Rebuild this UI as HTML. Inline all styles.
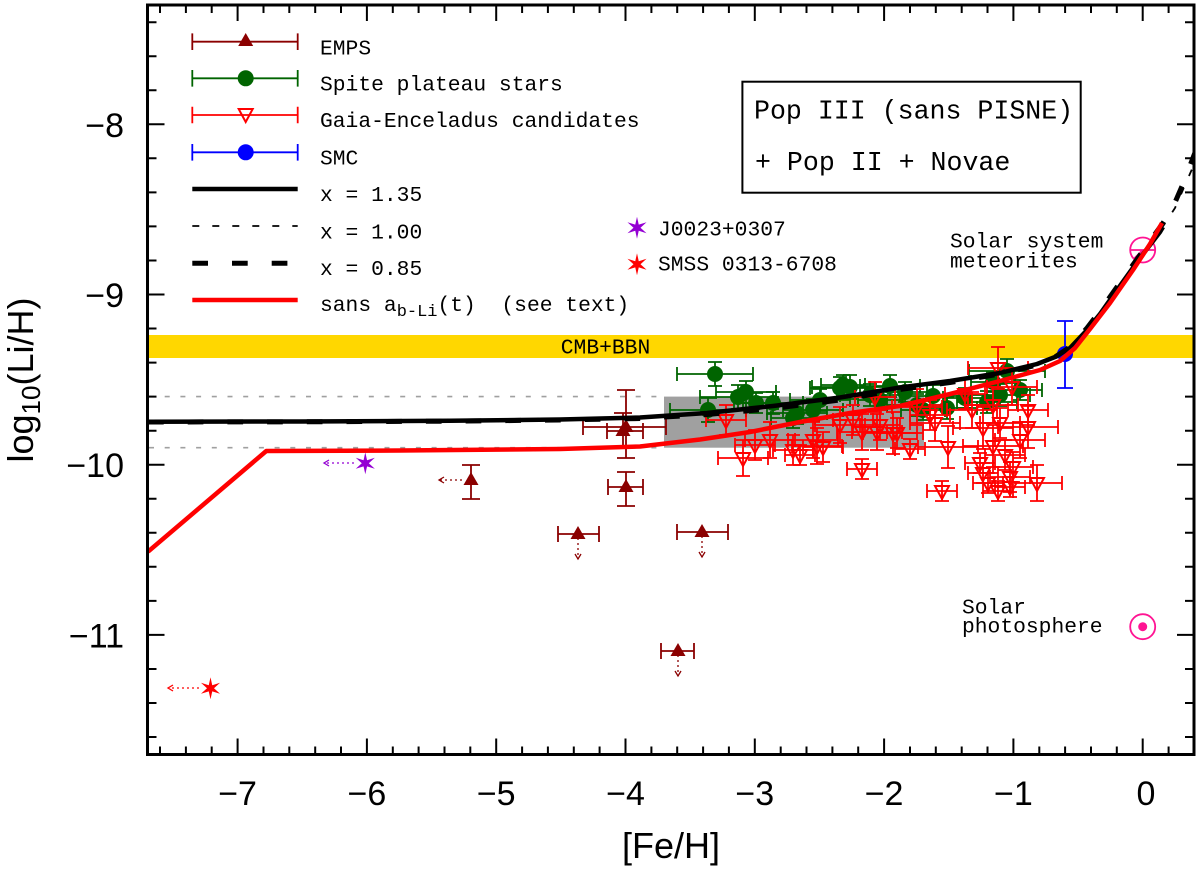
<!DOCTYPE html>
<html><head><meta charset="utf-8"><style>
html,body{margin:0;padding:0;background:#fff}
svg{display:block}
.m{font-family:"Liberation Mono","Courier New",monospace;font-size:21.3px;fill:#000;white-space:pre}
.s{font-family:"Liberation Sans",Arial,sans-serif;fill:#000}
</style></head><body>
<svg xmlns="http://www.w3.org/2000/svg" width="1200" height="873" viewBox="0 0 1200 873">
<defs>
<clipPath id="c"><rect x="149" y="6.5" width="1043.5" height="746.5"/></clipPath>
<path id="tu" d="M0,-8L7.5,5H-7.5Z" fill="#8b0000"/>
<path id="td" d="M0,8L7,-5H-7Z" fill="none" stroke="#f00" stroke-width="2"/>
<path id="A" d="M-20,0H20M-20,-7v14M20,-7v14M0,-15V15M-7,-15h14M-7,15h14" fill="none" stroke="#f00" stroke-width="1.8"/>
<path id="B" d="M-25,0H25M-25,-7v14M25,-7v14M0,-18V18M-7,-18h14M-7,18h14" fill="none" stroke="#f00" stroke-width="1.8"/>
<path id="C" d="M-15,0H15M-15,-7v14M15,-7v14M0,-10V10M-7,-10h14M-7,10h14" fill="none" stroke="#f00" stroke-width="1.8"/>
<path id="D" d="M-30,0H30M-30,-7v14M30,-7v14M0,-21V21M-7,-21h14M-7,21h14" fill="none" stroke="#f00" stroke-width="1.8"/>
<path id="G1" d="M-30,0H30M-30,-7v14M30,-7v14M0,-11V11M-7,-11h14M-7,11h14" fill="none" stroke="#006400" stroke-width="1.8"/>
<path id="G2" d="M-38,0H38M-38,-7v14M38,-7v14M0,-12V12M-7,-12h14M-7,12h14" fill="none" stroke="#006400" stroke-width="1.8"/>
<path id="G3" d="M-22,0H22M-22,-7v14M22,-7v14M0,-10V10M-7,-10h14M-7,10h14" fill="none" stroke="#006400" stroke-width="1.8"/>
<circle id="gc" r="8" fill="#006400"/>
<polygon id="st" points="0,-11 1.75,-3.03 9.53,-5.5 3.5,0 9.53,5.5 1.75,3.03 0,11 -1.75,3.03 -9.53,5.5 -3.5,0 -9.53,-5.5 -1.75,-3.03"/>
</defs>

<rect x="0" y="0" width="1200" height="873" fill="#fff"/>

<!-- CMB+BBN band -->
<rect x="149" y="335" width="1043.5" height="23" fill="#ffd700"/>
<!-- gray box -->
<rect x="664" y="396.6" width="260" height="51.1" fill="#a0a0a0"/>
<path d="M149,396.6H664M149,447.7H664" stroke="#a0a0a0" stroke-width="1.6" stroke-dasharray="5,10.7" fill="none"/>
<text class="m" x="605.5" y="353.3" text-anchor="middle">CMB+BBN</text>

<!-- EMPS -->
<g fill="none" stroke="#8b0000" stroke-width="1.8">
<path d="M626,390V458M617,390h18M617,458h18M583,427H666M583,419v16M666,419v16"/>
<path d="M623,413V449M614,413h18M607,431H643M607,423v16M643,423v16"/>
<path d="M626,472V506M617,472h18M617,506h18M608,487H643M608,479v16M643,479v16"/>
<path d="M471,465V499M462,465h18M462,499h18"/>
<path d="M558,534H599M558,526v16M599,526v16"/>
<path d="M677,532H728M677,524v16M728,524v16"/>
<path d="M661,651H694M661,643v16M694,643v16"/>
</g>
<g fill="none" stroke="#8b0000" stroke-width="1.3">
<path d="M462,480H440" stroke-dasharray="2,3"/><path d="M444,477L439,480L444,483"/>
<path d="M578,538V559" stroke-dasharray="2,3"/><path d="M575,554L578,559L581,554"/>
<path d="M702,536V557" stroke-dasharray="2,3"/><path d="M699,552L702,557L705,552"/>
<path d="M678,655V676" stroke-dasharray="2,3"/><path d="M675,671L678,676L681,671"/>
</g>
<use href="#tu" x="626" y="427"/><use href="#tu" x="623" y="431"/>
<use href="#tu" x="626" y="487"/><use href="#tu" x="471" y="480"/>
<use href="#tu" x="578" y="534"/><use href="#tu" x="702" y="532"/>
<use href="#tu" x="678" y="651"/>

<!-- Spite plateau -->
<use href="#G2" x="715" y="374"/><use href="#G1" x="746" y="392"/><use href="#G2" x="738" y="397"/>
<use href="#G2" x="708" y="410"/><use href="#G3" x="756" y="403"/><use href="#G1" x="773" y="403"/>
<use href="#G3" x="793" y="418"/><use href="#G1" x="813" y="410"/><use href="#G1" x="797" y="413"/>
<use href="#G1" x="820" y="400"/><use href="#G1" x="840" y="388"/><use href="#G3" x="843" y="385"/>
<use href="#G2" x="850" y="387"/><use href="#G1" x="870" y="395"/><use href="#G3" x="880" y="400"/>
<use href="#G1" x="890" y="386"/><use href="#G3" x="905" y="392"/><use href="#G1" x="917" y="405"/>
<use href="#G3" x="923" y="410"/><use href="#G1" x="933" y="396"/><use href="#G1" x="947" y="408"/>
<use href="#G3" x="965" y="398"/><use href="#G1" x="987" y="402"/><use href="#G3" x="993" y="382"/>
<use href="#G2" x="1007" y="371"/><use href="#G3" x="1020" y="390"/><use href="#G1" x="1000" y="395"/>
<use href="#gc" x="715" y="374"/><use href="#gc" x="746" y="392"/><use href="#gc" x="738" y="397"/>
<use href="#gc" x="708" y="410"/><use href="#gc" x="756" y="403"/><use href="#gc" x="773" y="403"/>
<use href="#gc" x="793" y="418"/><use href="#gc" x="813" y="410"/><use href="#gc" x="797" y="413"/>
<use href="#gc" x="820" y="400"/><use href="#gc" x="840" y="388"/><use href="#gc" x="843" y="385"/>
<use href="#gc" x="850" y="387"/><use href="#gc" x="870" y="395"/><use href="#gc" x="880" y="400"/>
<use href="#gc" x="890" y="386"/><use href="#gc" x="905" y="392"/><use href="#gc" x="917" y="405"/>
<use href="#gc" x="923" y="410"/><use href="#gc" x="933" y="396"/><use href="#gc" x="947" y="408"/>
<use href="#gc" x="965" y="398"/><use href="#gc" x="987" y="402"/><use href="#gc" x="993" y="382"/>
<use href="#gc" x="1007" y="371"/><use href="#gc" x="1020" y="390"/><use href="#gc" x="1000" y="395"/>

<!-- Gaia-Enceladus -->
<use href="#A" x="726" y="420"/><use href="#td" x="726" y="420"/>
<use href="#B" x="743" y="458"/><use href="#td" x="743" y="458"/>
<use href="#A" x="755" y="445"/><use href="#td" x="755" y="445"/>
<use href="#A" x="793" y="450"/><use href="#td" x="793" y="450"/>
<use href="#B" x="813" y="440"/><use href="#td" x="813" y="440"/>
<use href="#B" x="817" y="446"/><use href="#td" x="817" y="446"/>
<use href="#A" x="823" y="447"/><use href="#td" x="823" y="447"/>
<use href="#B" x="840" y="425"/><use href="#td" x="840" y="425"/>
<use href="#A" x="853" y="420"/><use href="#td" x="853" y="420"/>
<use href="#B" x="862" y="432"/><use href="#td" x="862" y="432"/>
<use href="#C" x="862" y="469"/><use href="#td" x="862" y="469"/>
<use href="#A" x="875" y="397"/><use href="#td" x="875" y="397"/>
<use href="#B" x="877" y="432"/><use href="#td" x="877" y="432"/>
<use href="#D" x="893" y="433"/><use href="#td" x="893" y="433"/>
<use href="#A" x="897" y="433"/><use href="#td" x="897" y="433"/>
<use href="#C" x="910" y="449"/><use href="#td" x="910" y="449"/>
<use href="#B" x="917" y="407"/><use href="#td" x="917" y="407"/>
<use href="#B" x="935" y="423"/><use href="#td" x="935" y="423"/>
<use href="#D" x="948" y="447"/><use href="#td" x="948" y="447"/>
<use href="#C" x="942" y="491"/><use href="#td" x="942" y="491"/>
<use href="#A" x="965" y="394"/><use href="#td" x="965" y="394"/>
<use href="#B" x="972" y="410"/><use href="#td" x="972" y="410"/>
<use href="#D" x="983" y="428"/><use href="#td" x="983" y="428"/>
<use href="#D" x="993" y="446"/><use href="#td" x="993" y="446"/>
<use href="#C" x="980" y="463"/><use href="#td" x="980" y="463"/>
<use href="#C" x="983" y="473"/><use href="#td" x="983" y="473"/>
<use href="#C" x="988" y="483"/><use href="#td" x="988" y="483"/>
<use href="#C" x="998" y="491"/><use href="#td" x="998" y="491"/>
<use href="#A" x="1013" y="467"/><use href="#td" x="1013" y="467"/>
<use href="#A" x="1010" y="477"/><use href="#td" x="1010" y="477"/>
<use href="#C" x="1010" y="487"/><use href="#td" x="1010" y="487"/>
<use href="#A" x="1028" y="410"/><use href="#td" x="1028" y="410"/>
<use href="#D" x="1028" y="427"/><use href="#td" x="1028" y="427"/>
<use href="#B" x="1037" y="483"/><use href="#td" x="1037" y="483"/>
<use href="#D" x="998" y="368"/><use href="#td" x="998" y="368"/>
<use href="#B" x="1012" y="387"/><use href="#td" x="1012" y="387"/>
<use href="#B" x="993" y="405"/><use href="#td" x="993" y="405"/>
<use href="#A" x="1000" y="423"/><use href="#td" x="1000" y="423"/>
<use href="#A" x="930" y="415"/><use href="#td" x="930" y="415"/>
<use href="#A" x="880" y="425"/><use href="#td" x="880" y="425"/>
<use href="#C" x="800" y="455"/><use href="#td" x="800" y="455"/>
<use href="#B" x="770" y="440"/><use href="#td" x="770" y="440"/>
<use href="#B" x="1020" y="440"/><use href="#td" x="1020" y="440"/>
<use href="#A" x="1005" y="455"/><use href="#td" x="1005" y="455"/>

<!-- SMC -->
<path d="M1065,321V388M1057,321h16M1057,388h16" stroke="#00f" stroke-width="1.8" fill="none"/>
<circle cx="1065" cy="354" r="8" fill="#00f"/>

<!-- Sun symbols -->
<g stroke="#ff1493" stroke-width="1.8" fill="none">
<circle cx="1142.7" cy="250" r="12.5"/>
<path d="M1130.2,250H1155.2M1142.7,250L1133.9,258.8"/>
<circle cx="1142.7" cy="626.7" r="12.5"/>
</g>
<circle cx="1142.7" cy="626.7" r="4.5" fill="#ff1493"/>

<!-- Stars -->
<use href="#st" x="365.3" y="463.3" fill="#9400d3"/>
<g fill="none" stroke="#9400d3" stroke-width="1.3">
<path d="M354,463H325" stroke-dasharray="2,3"/><path d="M329,460L324,463L329,466"/>
</g>
<use href="#st" x="210.5" y="688.3" fill="#f00"/>
<g fill="none" stroke="#f00" stroke-width="1.3">
<path d="M199,688H169" stroke-dasharray="2,3"/><path d="M173,685L168,688L173,691"/>
</g>

<!-- Curves -->
<g clip-path="url(#c)" fill="none" stroke-linejoin="round">
<polyline stroke="#000" stroke-width="1.8" stroke-dasharray="7,13" points="148,421.7 300,421.5 450,420.8 560,419.5 640,417.5 707,413 773,406 840,397.5 900,387.5 950,381 1000,373 1037,364 1055,357 1070,348 1087,330 1100,314 1117,290 1140,258 1160,231 1175,208 1196,160"/>
<polyline stroke="#000" stroke-width="5" stroke-dasharray="15.7,24" points="148,422 300,421.8 450,421.2 560,420 640,418.5 707,414.5 773,408.5 840,400 900,389.5 950,382.5 1000,374 1037,365 1055,357 1070,347 1087,328 1100,311 1117,287 1140,255 1163,223 1173,207 1183,184 1196,150"/>
<polyline stroke="#000" stroke-width="4.5" points="148,421.7 300,421.5 450,420.8 560,419.5 640,417.5 707,413 773,406 840,397.5 900,387.5 950,381 1000,373 1037,364 1055,357 1070,348 1087,330 1100,314 1117,290 1140,258 1160,232 1163,227"/>
<polyline stroke="#f00" stroke-width="4.5" points="148,551.7 266.3,451 400,450.5 560,449 640,446.5 700,439.5 750,432 800,422 850,413 900,406 950,394 1000,381 1040,370 1060,361 1075,348 1090,329 1110,303 1133,270 1150,244 1162,223"/>
</g>

<!-- Frame & ticks -->
<rect x="147.5" y="5" width="1046.5" height="749.5" fill="none" stroke="#000" stroke-width="3"/>
<path fill="none" stroke="#000" stroke-width="2" d="
M237.6,754.5v-16M366.9,754.5v-16M496.2,754.5v-16M625.5,754.5v-16M754.8,754.5v-16M884.1,754.5v-16M1013.4,754.5v-16M1142.7,754.5v-16
M237.6,5v16M366.9,5v16M496.2,5v16M625.5,5v16M754.8,5v16M884.1,5v16M1013.4,5v16M1142.7,5v16
M160,754.5v-8M185.9,754.5v-8M211.7,754.5v-8M263.5,754.5v-8M289.3,754.5v-8M315.2,754.5v-8M341,754.5v-8M392.8,754.5v-8M418.6,754.5v-8M444.5,754.5v-8M470.3,754.5v-8M522.1,754.5v-8M547.9,754.5v-8M573.8,754.5v-8M599.6,754.5v-8M651.4,754.5v-8M677.2,754.5v-8M703.1,754.5v-8M728.9,754.5v-8M780.7,754.5v-8M806.5,754.5v-8M832.4,754.5v-8M858.2,754.5v-8M910,754.5v-8M935.8,754.5v-8M961.7,754.5v-8M987.5,754.5v-8M1039.3,754.5v-8M1065.1,754.5v-8M1091,754.5v-8M1116.8,754.5v-8M1168.6,754.5v-8
M160,5v8M185.9,5v8M211.7,5v8M263.5,5v8M289.3,5v8M315.2,5v8M341,5v8M392.8,5v8M418.6,5v8M444.5,5v8M470.3,5v8M522.1,5v8M547.9,5v8M573.8,5v8M599.6,5v8M651.4,5v8M677.2,5v8M703.1,5v8M728.9,5v8M780.7,5v8M806.5,5v8M832.4,5v8M858.2,5v8M910,5v8M935.8,5v8M961.7,5v8M987.5,5v8M1039.3,5v8M1065.1,5v8M1091,5v8M1116.8,5v8M1168.6,5v8
M147.5,124.3h17M147.5,294.5h17M147.5,464.7h17M147.5,634.9h17
M1194,124.3h-17M1194,294.5h-17M1194,464.7h-17M1194,634.9h-17
M147.5,22.2h9M147.5,56.2h9M147.5,90.3h9M147.5,158.3h9M147.5,192.4h9M147.5,226.4h9M147.5,260.5h9M147.5,328.5h9M147.5,362.6h9M147.5,396.6h9M147.5,430.7h9M147.5,498.7h9M147.5,532.8h9M147.5,566.8h9M147.5,600.9h9M147.5,669h9M147.5,703h9M147.5,737h9
M1194,22.2h-9M1194,56.2h-9M1194,90.3h-9M1194,158.3h-9M1194,192.4h-9M1194,226.4h-9M1194,260.5h-9M1194,328.5h-9M1194,362.6h-9M1194,396.6h-9M1194,430.7h-9M1194,498.7h-9M1194,532.8h-9M1194,566.8h-9M1194,600.9h-9M1194,669h-9M1194,703h-9M1194,737h-9"/>

<!-- Tick labels -->
<g class="s" font-size="34" text-anchor="end">
<text x="124" y="136.8">−8</text>
<text x="124" y="307">−9</text>
<text x="124" y="477.2">−10</text>
<text x="124" y="647.4">−11</text>
</g>
<g class="s" font-size="34" text-anchor="middle">
<text x="237.6" y="805">−7</text>
<text x="366.9" y="805">−6</text>
<text x="496.2" y="805">−5</text>
<text x="625.5" y="805">−4</text>
<text x="754.8" y="805">−3</text>
<text x="884.1" y="805">−2</text>
<text x="1013.4" y="805">−1</text>
<text x="1146" y="805">0</text>
</g>
<text class="s" font-size="36" x="671" y="858" text-anchor="middle">[Fe/H]</text>
<text class="s" font-size="36" transform="translate(33,380) rotate(-90)" text-anchor="middle">log<tspan font-size="26" dy="7">10</tspan><tspan dy="-7">(Li/H)</tspan></text>

<!-- Legend -->
<g fill="none" stroke-width="1.8">
<path stroke="#8b0000" d="M192.3,41.7H297.7M192.3,33.4v16.6M297.7,33.4v16.6"/>
<path stroke="#006400" d="M192.3,78.3H297.7M192.3,70v16.6M297.7,70v16.6"/>
<path stroke="#f00" d="M192.3,115H297.7M192.3,106.7v16.6M297.7,106.7v16.6"/>
<path stroke="#00f" d="M192.3,152.3H297.7M192.3,144v16.6M297.7,144v16.6"/>
</g>
<use href="#tu" x="245.7" y="41"/>
<circle cx="245.7" cy="78.3" r="8" fill="#006400"/>
<use href="#td" x="245.7" y="114"/>
<circle cx="245.7" cy="152.3" r="8" fill="#00f"/>
<path d="M192.3,189H297.7" stroke="#000" stroke-width="4.5"/>
<path d="M192.3,226H297.7" stroke="#000" stroke-width="1.8" stroke-dasharray="7,13"/>
<path d="M192.3,263.3H297.7" stroke="#000" stroke-width="5" stroke-dasharray="15.7,24"/>
<path d="M192.3,300H297.7" stroke="#f00" stroke-width="4.5"/>
<text class="m" x="320" y="54.3">EMPS</text>
<text class="m" x="320" y="90.7">Spite plateau stars</text>
<text class="m" x="320" y="127">Gaia-Enceladus candidates</text>
<text class="m" x="320" y="164.3">SMC</text>
<text class="m" x="320" y="201">x = 1.35</text>
<text class="m" x="320" y="238.3">x = 1.00</text>
<text class="m" x="320" y="275">x = 0.85</text>
<text class="m" x="320" y="311">sans a<tspan font-size="17" dy="5">b-Li</tspan><tspan dy="-5">(t)  (see text)</tspan></text>

<!-- Pop III box -->
<rect x="742.4" y="81.7" width="338.3" height="111" fill="none" stroke="#000" stroke-width="2"/>
<text class="m" style="font-size:26.6px" x="754" y="118.3">Pop III (sans PISNE)</text>
<text class="m" style="font-size:26.6px" x="755" y="170">+ Pop II + Novae</text>

<!-- Star labels -->
<use href="#st" x="637" y="227.7" fill="#9400d3"/>
<use href="#st" x="637" y="264.3" fill="#f00"/>
<text class="m" x="658" y="235.7">J0023+0307</text>
<text class="m" x="658" y="270.5">SMSS 0313-6708</text>

<text class="m" x="950" y="247.3">Solar system</text>
<text class="m" x="950" y="267.7">meteorites</text>
<text class="m" x="962" y="613.3">Solar</text>
<text class="m" x="962" y="632.7">photosphere</text>
</svg>
</body></html>
